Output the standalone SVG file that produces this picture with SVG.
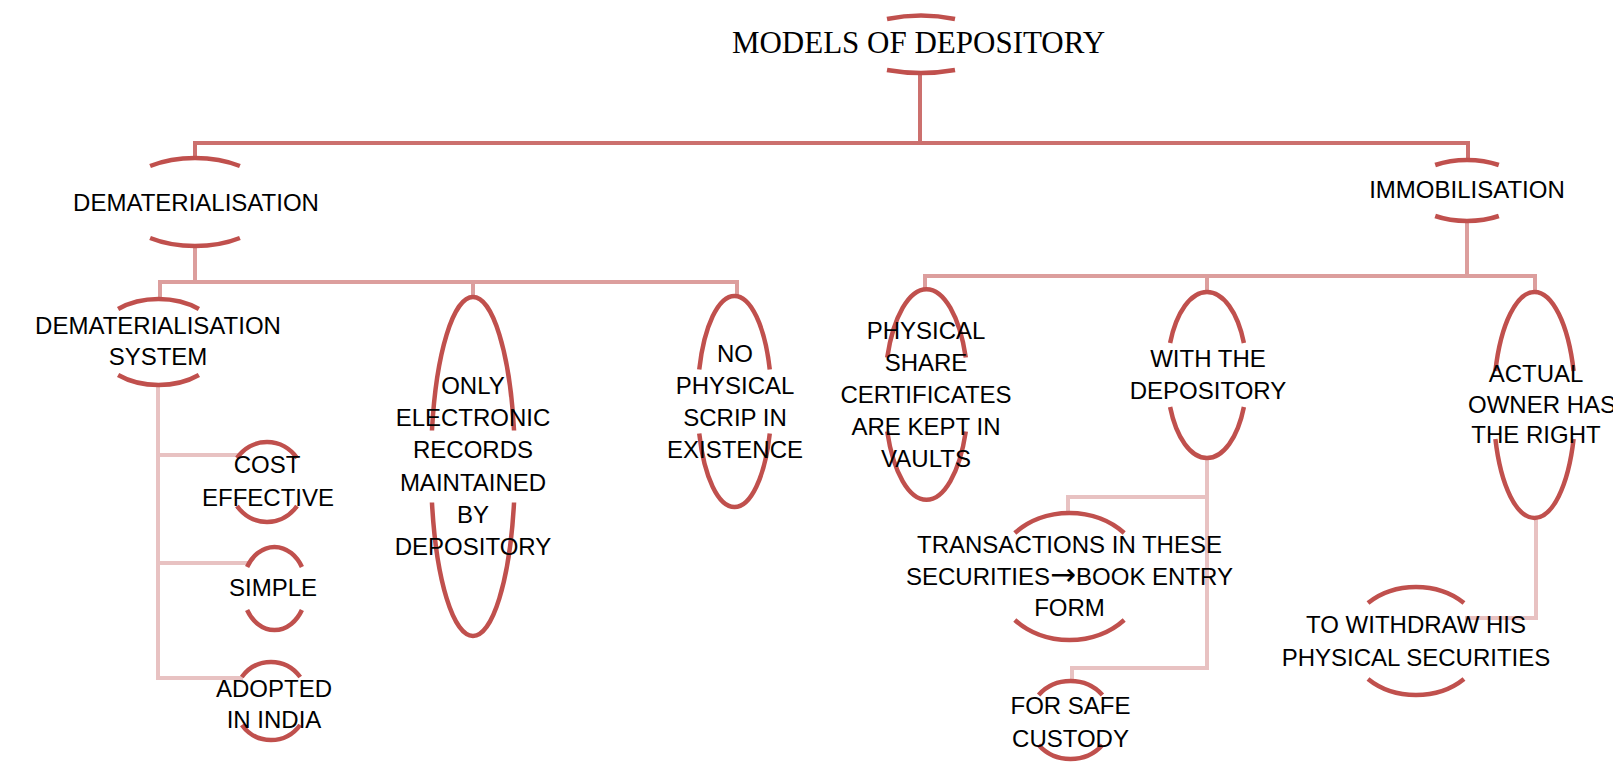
<svg xmlns="http://www.w3.org/2000/svg" width="1613" height="764" viewBox="0 0 1613 764">
<style>
.bg{fill:#ffffff}
.arc{fill:none;stroke:#c0504d;stroke-width:4.5;stroke-linecap:butt}
.l1{fill:none;stroke:#cc706e;stroke-width:4}
.l2{fill:none;stroke:#dc9e9d;stroke-width:4}
.l3{fill:none;stroke:#e8c2c2;stroke-width:4}
.t{font-family:"Liberation Sans",Arial,sans-serif;font-size:24px;fill:#000;text-anchor:middle}
.arr{font-family:"DejaVu Sans",sans-serif;font-size:31px}
.title{font-family:"Liberation Serif","Times New Roman",serif;font-size:31px;fill:#000;text-anchor:middle}
</style>
<rect class="bg" x="0" y="0" width="1613" height="764"/>
<g id="connectors">
<path class="l1" d="M920,72 V143"/>
<path class="l1" d="M195,158 V143 H1468 V160"/>
<path class="l2" d="M195,247 V282"/>
<path class="l2" d="M160,298 V282 H737 V296"/>
<path class="l2" d="M473,282 V297"/>
<path class="l2" d="M1467,221 V276"/>
<path class="l2" d="M925,288 V276 H1535 V292"/>
<path class="l2" d="M1207,276 V292"/>
<path class="l3" d="M158,385 V678 H243"/>
<path class="l3" d="M158,455 H240"/>
<path class="l3" d="M158,563 H248"/>
<path class="l3" d="M1207,458 V668 H1072 V681"/>
<path class="l3" d="M1207,497 H1068 V513"/>
<path class="l3" d="M1536,518 V618 H1465"/>
</g>
<g id="n-models">
<path class="arc" d="M887,19 Q921,12 955,19"/>
<path class="arc" d="M887,70 Q921,76 955,70"/>
<text class="title" x="918.5" y="53">MODELS OF DEPOSITORY</text>
</g>
<g id="n-demat">
<path class="arc" d="M150.1,166 A78,44 0 0 1 239.9,166"/>
<path class="arc" d="M150.1,238 A78,44 0 0 0 239.9,238"/>
<text class="t" x="196" y="211">DEMATERIALISATION</text>
</g>
<g id="n-immob">
<path class="arc" d="M1435.2,165 A58,30.5 0 0 1 1498.8,165"/>
<path class="arc" d="M1435.2,216 A58,30.5 0 0 0 1498.8,216"/>
<text class="t" x="1467" y="198">IMMOBILISATION</text>
</g>
<g id="n-dematsys">
<path class="arc" d="M118.1,309 A63,43 0 0 1 198.9,309"/>
<path class="arc" d="M118.1,375 A63,43 0 0 0 198.9,375"/>
<text class="t" x="158" y="334">DEMATERIALISATION</text>
<text class="t" x="158" y="365">SYSTEM</text>
</g>
<g id="n-only">
<path class="arc" d="M431.96,430.5 A42,169.5 0 0 1 514.04,430.5"/>
<path class="arc" d="M431.96,502.5 A42,169.5 0 0 0 514.04,502.5"/>
<text class="t" x="473" y="394">ONLY</text>
<text class="t" x="473" y="426.2">ELECTRONIC</text>
<text class="t" x="473" y="458.4">RECORDS</text>
<text class="t" x="473" y="490.6">MAINTAINED</text>
<text class="t" x="473" y="522.8">BY</text>
<text class="t" x="473" y="555">DEPOSITORY</text>
</g>
<g id="n-nophys">
<path class="arc" d="M699.24,369.5 A37,105.5 0 0 1 769.76,369.5"/>
<path class="arc" d="M699.24,433.5 A37,105.5 0 0 0 769.76,433.5"/>
<text class="t" x="735" y="362">NO</text>
<text class="t" x="735" y="394">PHYSICAL</text>
<text class="t" x="735" y="426">SCRIP IN</text>
<text class="t" x="735" y="458">EXISTENCE</text>
</g>
<g id="n-physshare">
<path class="arc" d="M887.2,357.5 A42,105.5 0 0 1 965.8,357.5"/>
<path class="arc" d="M887.2,431.5 A42,105.5 0 0 0 965.8,431.5"/>
<text class="t" x="926" y="339">PHYSICAL</text>
<text class="t" x="926" y="371">SHARE</text>
<text class="t" x="926" y="403">CERTIFICATES</text>
<text class="t" x="926" y="435">ARE KEPT IN</text>
<text class="t" x="926" y="467">VAULTS</text>
</g>
<g id="n-withdep">
<path class="arc" d="M1170.1,343 A40,83 0 0 1 1243.9,343"/>
<path class="arc" d="M1170.1,407 A40,83 0 0 0 1243.9,407"/>
<text class="t" x="1208" y="367">WITH THE</text>
<text class="t" x="1208" y="399">DEPOSITORY</text>
</g>
<g id="n-actual">
<path class="arc" d="M1495.4,371 A41,113 0 0 1 1573.6,371"/>
<path class="arc" d="M1495.4,439 A41,113 0 0 0 1573.6,439"/>
<text class="t" x="1536" y="382">ACTUAL</text>
<text class="t" x="1468" y="413" style="text-anchor:start">OWNER HAS</text>
<text class="t" x="1536" y="443">THE RIGHT</text>
</g>
<g id="n-cost">
<path class="arc" d="M237,458 A37.5,40 0 0 1 297,458"/>
<path class="arc" d="M237,506 A37.5,40 0 0 0 297,506"/>
<text class="t" x="267" y="473">COST</text>
<text class="t" x="268" y="506">EFFECTIVE</text>
</g>
<g id="n-simple">
<path class="arc" d="M247.1,567 A32,41.5 0 0 1 301.9,567"/>
<path class="arc" d="M247.1,610 A32,41.5 0 0 0 301.9,610"/>
<text class="t" x="273" y="596">SIMPLE</text>
</g>
<g id="n-adopted">
<path class="arc" d="M241.8,677 A37,39 0 0 1 300.2,677"/>
<path class="arc" d="M241.8,725 A37,39 0 0 0 300.2,725"/>
<text class="t" x="274" y="697">ADOPTED</text>
<text class="t" x="274" y="728">IN INDIA</text>
</g>
<g id="n-trans">
<path class="arc" d="M1014.8,533 A75,63.5 0 0 1 1124.2,533"/>
<path class="arc" d="M1014.8,620 A75,63.5 0 0 0 1124.2,620"/>
<text class="t" x="1069.5" y="553">TRANSACTIONS IN THESE</text>
<text class="t" x="1069.5" y="585">SECURITIES<tspan class="arr">→</tspan>BOOK ENTRY</text>
<text class="t" x="1069.5" y="616">FORM</text>
</g>
<g id="n-safe">
<path class="arc" d="M1038.6,695 A41.6,39 0 0 1 1102.4,695"/>
<path class="arc" d="M1038.6,745 A41.6,39 0 0 0 1102.4,745"/>
<text class="t" x="1070.5" y="714">FOR SAFE</text>
<text class="t" x="1070.5" y="747">CUSTODY</text>
</g>
<g id="n-withdraw">
<path class="arc" d="M1368,603 A67.5,54 0 0 1 1464,603"/>
<path class="arc" d="M1368,679 A67.5,54 0 0 0 1464,679"/>
<text class="t" x="1416" y="633">TO WITHDRAW HIS</text>
<text class="t" x="1416" y="666">PHYSICAL SECURITIES</text>
</g>
</svg>
